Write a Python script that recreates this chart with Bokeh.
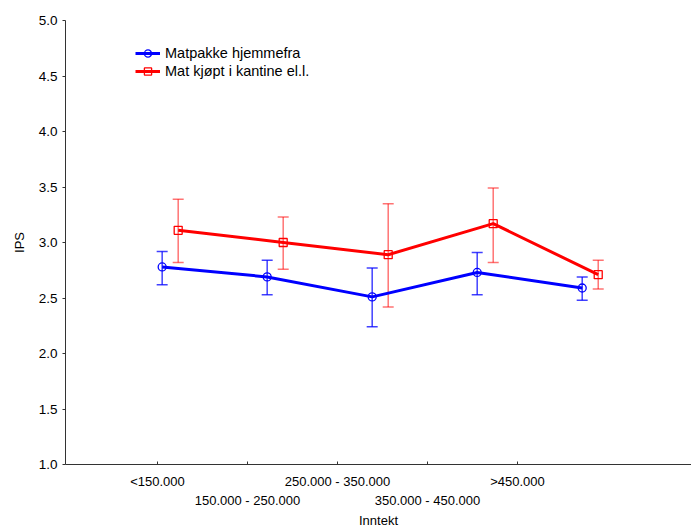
from bokeh.plotting import figure
from bokeh.models import (ColumnDataSource, FixedTicker, LinearAxis, Range1d,
                          Whisker, TeeHead, Legend, LegendItem, NumeralTickFormatter)
from bokeh.embed import file_html
from bokeh.resources import INLINE

# ---- data ----
categories = ["<150.000", "150.000 - 250.000", "250.000 - 350.000",
              "350.000 - 450.000", ">450.000"]
series_names = ["Matpakke hjemmefra", "Mat kjøpt i kantine el.l."]
blue_mean = [2.78, 2.69, 2.51, 2.73, 2.59]
blue_upper = [2.92, 2.84, 2.77, 2.91, 2.69]
blue_lower = [2.62, 2.53, 2.24, 2.53, 2.48]
red_mean = [3.11, 3.00, 2.89, 3.17, 2.71]
red_upper = [3.39, 3.23, 3.35, 3.49, 2.84]
red_lower = [2.82, 2.76, 2.42, 2.82, 2.58]
y_ticks = [1.0, 1.5, 2.0, 2.5, 3.0, 3.5, 4.0, 4.5, 5.0]

# ---- layout constants (positions, not data) ----
FONT = "Liberation Sans"
STEP = 7 / 6          # spacing of the point groups relative to tick spacing
BASE = 0.141          # group centre offset
OFF = 0.089           # blue/red dodge

idx = list(range(len(categories)))
xb = [BASE + i * STEP - OFF for i in idx]
xr = [BASE + i * STEP + OFF for i in idx]

src_b = ColumnDataSource(dict(x=xb, y=blue_mean, up=blue_upper, lo=blue_lower))
src_r = ColumnDataSource(dict(x=xr, y=red_mean, up=red_upper, lo=red_lower))

p = figure(width=691, height=530, output_backend="svg", toolbar_location=None,
           x_range=Range1d(-1.022, 5.933), y_range=Range1d(1.0, 5.0),
           min_border_left=65, min_border_right=0, min_border_top=20,
           min_border_bottom=66)
p.outline_line_color = None
p.xgrid.visible = False
p.ygrid.visible = False
p.background_fill_color = "white"
p.border_fill_color = "white"

AX_COLOR = "#333333"
TXT = "#000000"

# y axis
ya = p.yaxis[0]
ya.ticker = FixedTicker(ticks=y_ticks)
ya.formatter = NumeralTickFormatter(format="0.0")
ya.minor_tick_line_color = None
ya.major_tick_in = 0
ya.major_tick_out = 3
ya.axis_line_color = AX_COLOR
ya.major_tick_line_color = AX_COLOR
ya.major_label_text_font = FONT
ya.major_label_text_font_size = "13.5px"
ya.major_label_text_color = TXT
ya.major_label_standoff = 5
ya.axis_label = "IPS"
ya.axis_label_text_font = FONT
ya.axis_label_text_font_size = "13px"
ya.axis_label_text_font_style = "normal"
ya.axis_label_text_color = TXT
ya.axis_label_standoff = 9

# x axis (first row of labels)
xa = p.xaxis[0]
xa.ticker = FixedTicker(ticks=idx)
xa.major_label_overrides = {i: (categories[i] if i % 2 == 0 else " ") for i in idx}
xa.minor_tick_line_color = None
xa.major_tick_in = 3
xa.major_tick_out = 0
xa.axis_line_color = AX_COLOR
xa.major_tick_line_color = AX_COLOR
xa.major_label_text_font = FONT
xa.major_label_text_font_size = "13px"
xa.major_label_text_color = TXT
xa.major_label_standoff = 9

# second row of labels (staggered)
xa2 = LinearAxis(ticker=FixedTicker(ticks=[i for i in idx if i % 2 == 1]))
xa2.major_label_overrides = {i: categories[i] for i in idx if i % 2 == 1}
xa2.axis_line_color = None
xa2.major_tick_line_color = None
xa2.minor_tick_line_color = None
xa2.major_tick_in = 0
xa2.major_tick_out = 0
xa2.major_label_text_font = FONT
xa2.major_label_text_font_size = "13px"
xa2.major_label_text_color = TXT
xa2.major_label_standoff = 1
xa2.axis_label = "Inntekt"
xa2.axis_label_text_font = FONT
xa2.axis_label_text_font_size = "13px"
xa2.axis_label_text_font_style = "normal"
xa2.axis_label_text_color = TXT
xa2.axis_label_standoff = 2
p.add_layout(xa2, "below")

# error bars
for src, col, alpha in [(src_b, "#0000ff", 0.75), (src_r, "#ff0000", 0.55)]:
    w = Whisker(source=src, base="x", upper="up", lower="lo",
                line_color=col, line_alpha=alpha, line_width=1.5,
                upper_head=TeeHead(size=11, line_color=col, line_alpha=alpha, line_width=1.5),
                lower_head=TeeHead(size=11, line_color=col, line_alpha=alpha, line_width=1.5))
    p.add_layout(w)

lb = p.line("x", "y", source=src_b, line_color="#0000ff", line_width=3)
sb = p.scatter("x", "y", source=src_b, marker="circle", size=8,
               line_color="#0000ff", fill_color=None, line_width=1.3)
lr = p.line("x", "y", source=src_r, line_color="#ff0000", line_width=3)
sr = p.scatter("x", "y", source=src_r, marker="square", size=8,
               line_color="#ff0000", fill_color=None, line_width=1.3)

legend = Legend(items=[LegendItem(label=series_names[0], renderers=[lb, sb]),
                       LegendItem(label=series_names[1], renderers=[lr, sr])],
                location=(70, 384), orientation="vertical")
legend.label_text_font = FONT
legend.label_text_font_size = "14.5px"
legend.label_text_color = TXT
legend.label_height = 18
legend.glyph_height = 18
legend.glyph_width = 25
legend.label_standoff = 5
legend.spacing = 0
legend.padding = 0
legend.margin = 0
legend.background_fill_alpha = 0
legend.border_line_alpha = 0
p.add_layout(legend)

open("out.html", "w").write(file_html(p, INLINE))
